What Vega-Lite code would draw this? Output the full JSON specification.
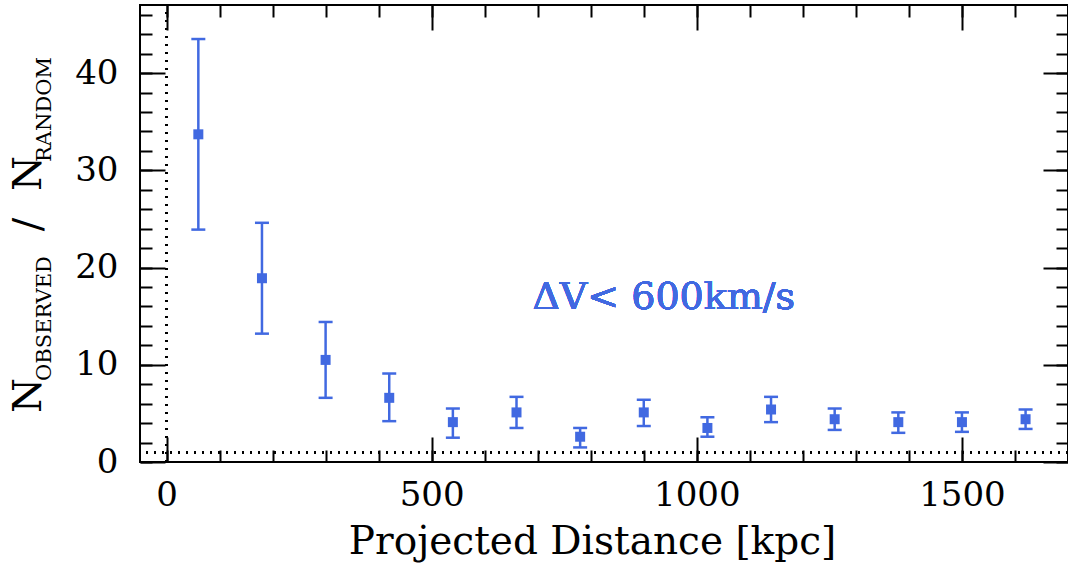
{
  "$schema": "https://vega.github.io/schema/vega-lite/v6.json",
  "width": 928,
  "height": 457,
  "autosize": {"type": "none"},
  "padding": {"left": 140, "top": 5, "right": 0, "bottom": 115},
  "background": "white",
  "config": {
    "view": {"stroke": "black", "strokeWidth": 2},
    "axis": {
      "domain": false,
      "grid": false,
      "tickColor": "black",
      "tickWidth": 2,
      "labelFont": "DejaVu Serif",
      "titleFont": "DejaVu Serif",
      "labelColor": "black",
      "titleColor": "black",
      "titleFontWeight": "normal"
    }
  },
  "data": {
    "values": [
      {"d": 60, "r": 33.7, "lo": 23.9, "hi": 43.5},
      {"d": 180, "r": 18.9, "lo": 13.2, "hi": 24.6},
      {"d": 300, "r": 10.5, "lo": 6.6, "hi": 14.4},
      {"d": 420, "r": 6.6, "lo": 4.2, "hi": 9.1},
      {"d": 540, "r": 4.1, "lo": 2.5, "hi": 5.5},
      {"d": 660, "r": 5.1, "lo": 3.5, "hi": 6.7},
      {"d": 780, "r": 2.6, "lo": 1.5, "hi": 3.5},
      {"d": 900, "r": 5.1, "lo": 3.7, "hi": 6.4},
      {"d": 1020, "r": 3.5, "lo": 2.6, "hi": 4.6},
      {"d": 1140, "r": 5.4, "lo": 4.1, "hi": 6.7},
      {"d": 1260, "r": 4.4, "lo": 3.3, "hi": 5.5},
      {"d": 1380, "r": 4.1, "lo": 3.0, "hi": 5.1},
      {"d": 1500, "r": 4.1, "lo": 3.1, "hi": 5.1},
      {"d": 1620, "r": 4.4, "lo": 3.4, "hi": 5.4}
    ]
  },
  "resolve": {"axis": {"x": "independent", "y": "independent"}},
  "layer": [
    {
      "mark": {"type": "rule", "color": "black", "strokeWidth": 2, "strokeDash": [2, 6]},
      "encoding": {
        "y": {"datum": 1, "type": "quantitative", "scale": {"domain": [0, 47], "nice": false, "zero": false},
          "axis": {"orient": "left", "ticks": false, "labels": false, "title": "N", "titleFontSize": 40, "titleX": -100, "titleY": 168, "titleAngle": 270, "titleAlign": "center", "titleBaseline": "alphabetic"}}
      }
    },
    {
      "mark": {"type": "rule", "color": "black", "strokeWidth": 2, "strokeDash": [2, 6]},
      "encoding": {
        "x": {"datum": 0, "type": "quantitative", "scale": {"domain": [-50, 1700], "nice": false, "zero": false}, "axis": null},
        "y": {"datum": 0, "type": "quantitative", "scale": {"domain": [0, 47], "nice": false, "zero": false},
          "axis": {"orient": "left", "ticks": false, "labels": false, "title": "RANDOM", "titleFontSize": 21, "titleX": -90, "titleY": 104, "titleAngle": 270, "titleAlign": "center", "titleBaseline": "alphabetic"}},
        "y2": {"datum": 47}
      }
    },
    {
      "mark": {"type": "rule", "color": "#4169e1", "strokeWidth": 2.5},
      "encoding": {
        "x": {"field": "d", "type": "quantitative", "scale": {"domain": [-50, 1700], "nice": false, "zero": false},
          "axis": {"orient": "bottom", "values": [0, 500, 1000, 1500], "format": "d", "ticks": false, "labelFontSize": 34, "labelPadding": 16, "labelFlush": false, "labelOverlap": false,
            "title": "Projected Distance [kpc]", "titleFontSize": 39, "titleX": 452, "titleY": 91, "titleAlign": "center", "titleBaseline": "alphabetic"}},
        "y": {"field": "lo", "type": "quantitative", "scale": {"domain": [0, 47], "nice": false, "zero": false},
          "axis": {"orient": "left", "values": [0, 10, 20, 30, 40], "format": "d", "ticks": false, "labelFontSize": 34, "labelPadding": 22, "labelFlush": false, "labelOverlap": false,
            "title": "N", "titleFontSize": 40, "titleX": -100, "titleY": 390, "titleAngle": 270, "titleAlign": "center", "titleBaseline": "alphabetic"}},
        "y2": {"field": "hi"}
      }
    },
    {
      "mark": {"type": "tick", "orient": "horizontal", "size": 14, "thickness": 2.5, "color": "#4169e1", "opacity": 1},
      "encoding": {
        "x": {"field": "d", "type": "quantitative", "scale": {"domain": [-50, 1700], "nice": false, "zero": false},
          "axis": {"orient": "bottom", "values": [0, 500, 1000, 1500], "labels": false, "tickSize": -25, "title": null}},
        "y": {"field": "lo", "type": "quantitative", "scale": {"domain": [0, 47], "nice": false, "zero": false},
          "axis": {"orient": "left", "values": [0, 10, 20, 30, 40], "labels": false, "tickSize": -25,
            "title": "OBSERVED", "titleFontSize": 21, "titleX": -90, "titleY": 313, "titleAngle": 270, "titleAlign": "center", "titleBaseline": "alphabetic"}}
      }
    },
    {
      "mark": {"type": "tick", "orient": "horizontal", "size": 14, "thickness": 2.5, "color": "#4169e1", "opacity": 1},
      "encoding": {
        "x": {"field": "d", "type": "quantitative", "scale": {"domain": [-50, 1700], "nice": false, "zero": false},
          "axis": {"orient": "bottom", "values": [0, 100, 200, 300, 400, 500, 600, 700, 800, 900, 1000, 1100, 1200, 1300, 1400, 1500, 1600], "labels": false, "tickSize": -12, "title": null}},
        "y": {"field": "hi", "type": "quantitative", "scale": {"domain": [0, 47], "nice": false, "zero": false},
          "axis": {"orient": "left", "values": [0, 2, 4, 6, 8, 10, 12, 14, 16, 18, 20, 22, 24, 26, 28, 30, 32, 34, 36, 38, 40, 42, 44, 46], "labels": false, "tickSize": -12,
            "title": "/", "titleFontSize": 40, "titleX": -100, "titleY": 219, "titleAngle": 270, "titleAlign": "center", "titleBaseline": "alphabetic"}}
      }
    },
    {
      "mark": {"type": "square", "size": 100, "filled": true, "color": "#4169e1", "opacity": 1},
      "encoding": {
        "x": {"field": "d", "type": "quantitative", "scale": {"domain": [-50, 1700], "nice": false, "zero": false},
          "axis": {"orient": "top", "values": [0, 500, 1000, 1500], "labels": false, "tickSize": -25, "title": null}},
        "y": {"field": "r", "type": "quantitative", "scale": {"domain": [0, 47], "nice": false, "zero": false},
          "axis": {"orient": "right", "values": [0, 10, 20, 30, 40], "labels": false, "tickSize": -25, "title": null}}
      }
    },
    {
      "mark": {"type": "text", "font": "DejaVu Serif", "fontSize": 38, "color": "#4169e1", "align": "left", "baseline": "alphabetic"},
      "encoding": {
        "x": {"datum": 690, "type": "quantitative", "scale": {"domain": [-50, 1700], "nice": false, "zero": false},
          "axis": {"orient": "top", "values": [0, 100, 200, 300, 400, 500, 600, 700, 800, 900, 1000, 1100, 1200, 1300, 1400, 1500, 1600], "labels": false, "tickSize": -12, "title": null}},
        "y": {"datum": 15.7, "type": "quantitative", "scale": {"domain": [0, 47], "nice": false, "zero": false},
          "axis": {"orient": "right", "values": [0, 2, 4, 6, 8, 10, 12, 14, 16, 18, 20, 22, 24, 26, 28, 30, 32, 34, 36, 38, 40, 42, 44, 46], "labels": false, "tickSize": -12, "title": null}},
        "text": {"datum": "ΔV< 600km/s"}
      }
    }
  ]
}
